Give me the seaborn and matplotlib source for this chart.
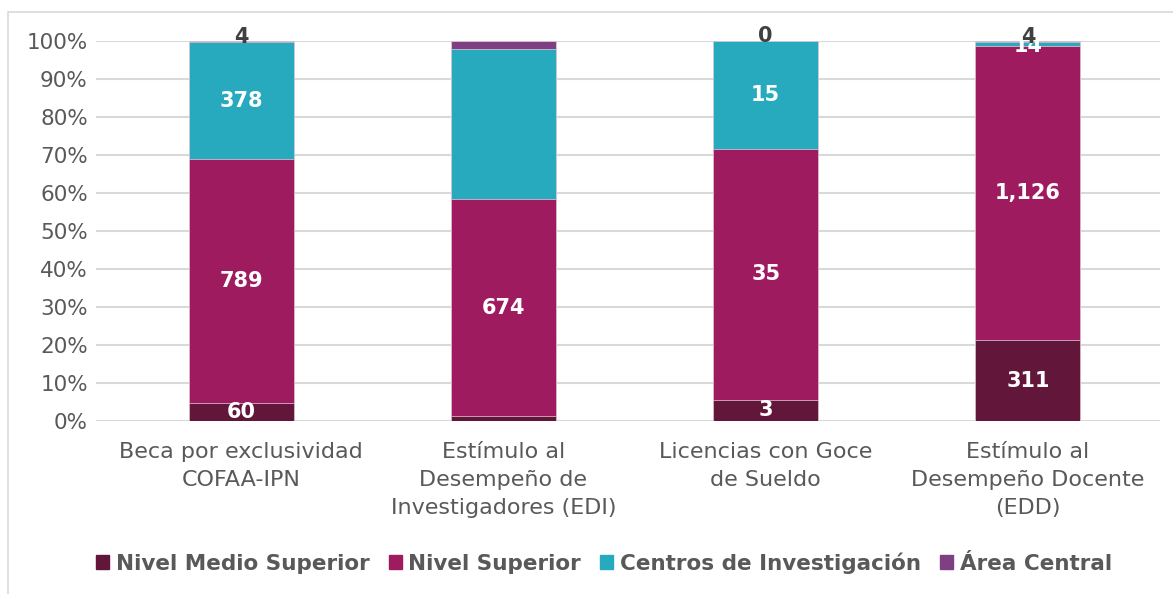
import pandas as pd
import matplotlib.pyplot as plt
import matplotlib.patches as mpatches
import seaborn as sns

# Data
categories = ["Beca por exclusividad\nCOFAA-IPN",
              "Estímulo al\nDesempeño de\nInvestigadores (EDI)",
              "Licencias con Goce\nde Sueldo",
              "Estímulo al\nDesempeño Docente\n(EDD)"]
series = ["Nivel Medio Superior", "Nivel Superior", "Centros de Investigación", "Área Central"]
medio_superior = [60, 15, 3, 311]
nivel_superior = [789, 674, 35, 1126]
centros = [378, 467, 15, 14]
area_central = [4, 24, 0, 4]
# which labels are shown in the original (EDI only shows Nivel Superior)
show_label = [[True, False, True, True],
              [True, True, True, True],
              [True, False, True, True],
              [True, False, True, True]]
colors = ["#62173A", "#9D1B5E", "#27AABE", "#7E4083"]

sns.set_style("white")
plt.rcParams["font.family"] = ["DejaVu Sans"]

df = pd.DataFrame({"Categoría": categories,
                   series[0]: medio_superior,
                   series[1]: nivel_superior,
                   series[2]: centros,
                   series[3]: area_central})
totals = df[series].sum(axis=1)
shares = df[series].div(totals, axis=0)
cum = shares.cumsum(axis=1)

fig = plt.figure(figsize=(11.73, 5.94), dpi=100)
ax = fig.add_axes([0.082, 0.291, 0.907, 0.64])

# stacked bars: draw cumulative totals from top to bottom
for i in range(len(series) - 1, -1, -1):
    sns.barplot(x=df["Categoría"], y=cum[series[i]], color=colors[i],
                width=0.4, saturation=1, ax=ax, zorder=2, linewidth=0.5,
                edgecolor="#E8D0DC")

# data labels
for j in range(len(categories)):
    for i, s in enumerate(series):
        if not show_label[i][j]:
            continue
        val = df.loc[j, s]
        mid = cum.loc[j, s] - shares.loc[j, s] / 2
        if i == 3:
            ax.text(j, mid + 0.012, f"{val:,}", ha="center", va="center",
                    color="#404040", fontsize=15, fontweight="bold", zorder=4)
        elif i == 2 and shares.loc[j, s] < 0.05:
            ax.text(j, mid - 0.006, f"{val:,}", ha="center", va="center",
                    color="white", fontsize=15, fontweight="bold", zorder=3)
        else:
            ax.text(j, mid, f"{val:,}", ha="center", va="center",
                    color="white", fontsize=15, fontweight="bold", zorder=4)

ax.set_ylim(0, 1)
ax.set_xlim(-0.553, 3.504)
ax.set_yticks([i / 10 for i in range(11)])
ax.set_yticklabels([f"{i * 10}%" for i in range(11)])
ax.yaxis.grid(True, color="#D9D9D9", linewidth=1.5, zorder=0)
ax.set_axisbelow(True)
ax.tick_params(axis="both", length=0, labelcolor="#595959")
ax.tick_params(axis="y", labelsize=15.5, pad=6)
ax.tick_params(axis="x", labelsize=16, pad=15)
for lab in ax.get_xticklabels():
    lab.set_linespacing(1.5)
ax.set_xlabel("")
ax.set_ylabel("")
sns.despine(ax=ax, left=True, bottom=True)

handles = [mpatches.Patch(color=c, label=s) for c, s in zip(colors, series)]
leg = fig.legend(handles=handles, loc="center", bbox_to_anchor=(0.515, 0.052),
                 ncol=4, frameon=False, handlelength=0.6, handleheight=0.6,
                 handletextpad=0.3, columnspacing=0.9,
                 prop={"size": 15.5, "weight": "bold"})
for t in leg.get_texts():
    t.set_color("#595959")

# chart border
fig.patches.append(mpatches.Rectangle((0.007, -0.2), 1.2, 1.18, transform=fig.transFigure,
                                      fill=False, edgecolor="#D9D9D9", linewidth=1.2))

fig.savefig("out.png", dpi=100)
